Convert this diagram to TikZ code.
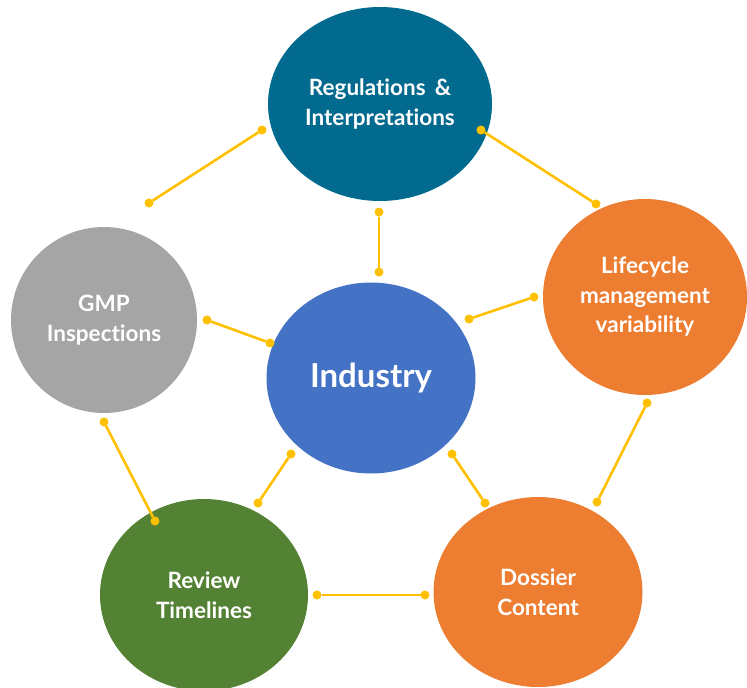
\documentclass[tikz,border=0pt]{standalone}
\usepackage{fontspec}
\setmainfont{Lato}[Ligatures=NoCommon]
\usetikzlibrary{shapes.geometric}
\definecolor{regteal}{RGB}{2,106,142}
\definecolor{indblue}{RGB}{68,114,196}
\definecolor{lifeorange}{RGB}{237,125,49}
\definecolor{gmpgray}{RGB}{165,165,165}
\definecolor{revgreen}{RGB}{84,130,53}
\definecolor{linkyellow}{RGB}{255,192,0}
\tikzset{
    bubble/.style={ellipse, inner sep=0pt, outer sep=0pt, align=center, text=white,
        font=\bfseries\fontsize{22.5}{29.5}\selectfont},
    knot/.style={circle, fill=linkyellow, inner sep=0pt, outer sep=0pt, minimum size=9pt},
    link/.style={draw=linkyellow, line width=2.6pt}
}

\begin{document}
\begin{tikzpicture}[x=1pt, y=-1pt]
    \useasboundingbox (0,0) rectangle (747,688);

    % the six bubbles
    \node[bubble, fill=regteal, minimum width=224pt, minimum height=194pt] (reg) at (380,104) {Regulations \,\&\\Interpretations};
    \node[bubble, fill=lifeorange, minimum width=204pt, minimum height=196pt] (life) at (645,297) {Lifecycle\\management\\variability};
    \node[bubble, fill=gmpgray, minimum width=186pt, minimum height=186pt] (gmp) at (104,320) {GMP\\Inspections};
    \node[bubble, fill=indblue, minimum width=209pt, minimum height=191pt,
        font=\bfseries\fontsize{33}{38}\selectfont] (ind) at (371,378) {Industry};
    \node[bubble, fill=revgreen, minimum width=208pt, minimum height=192pt] (rev) at (204,595) {Review\\Timelines};
    \node[bubble, fill=lifeorange, minimum width=209pt, minimum height=190pt] (dos) at (538,592) {Dossier\\Content};

    % end points of the links
    \node[knot] (rg1) at (262,130) {};
    \node[knot] (rg2) at (149,203) {};
    \node[knot] (rl1) at (481,130) {};
    \node[knot] (rl2) at (596,204) {};
    \node[knot] (ri1) at (379,212) {};
    \node[knot] (ri2) at (379,272) {};
    \node[knot] (li1) at (534,297) {};
    \node[knot] (li2) at (469,319) {};
    \node[knot] (ld1) at (647,403) {};
    \node[knot] (ld2) at (597,502) {};
    \node[knot] (dr1) at (425,595) {};
    \node[knot] (dr2) at (317,595) {};
    \node[knot] (rv1) at (155,521) {};
    \node[knot] (rv2) at (104,422) {};
    \node[knot] (ig1) at (270,343) {};
    \node[knot] (ig2) at (207,320) {};
    \node[knot] (ir1) at (291,454) {};
    \node[knot] (ir2) at (258,503) {};
    \node[knot] (id1) at (452,454) {};
    \node[knot] (id2) at (485,503) {};

    \draw[link] (rg1) -- (rg2);
    \draw[link] (rl1) -- (rl2);
    \draw[link] (ri1) -- (ri2);
    \draw[link] (li1) -- (li2);
    \draw[link] (ld1) -- (ld2);
    \draw[link] (dr1) -- (dr2);
    \draw[link] (rv1) -- (rv2);
    \draw[link] (ig1) -- (ig2);
    \draw[link] (ir1) -- (ir2);
    \draw[link] (id1) -- (id2);
\end{tikzpicture}
\end{document}
